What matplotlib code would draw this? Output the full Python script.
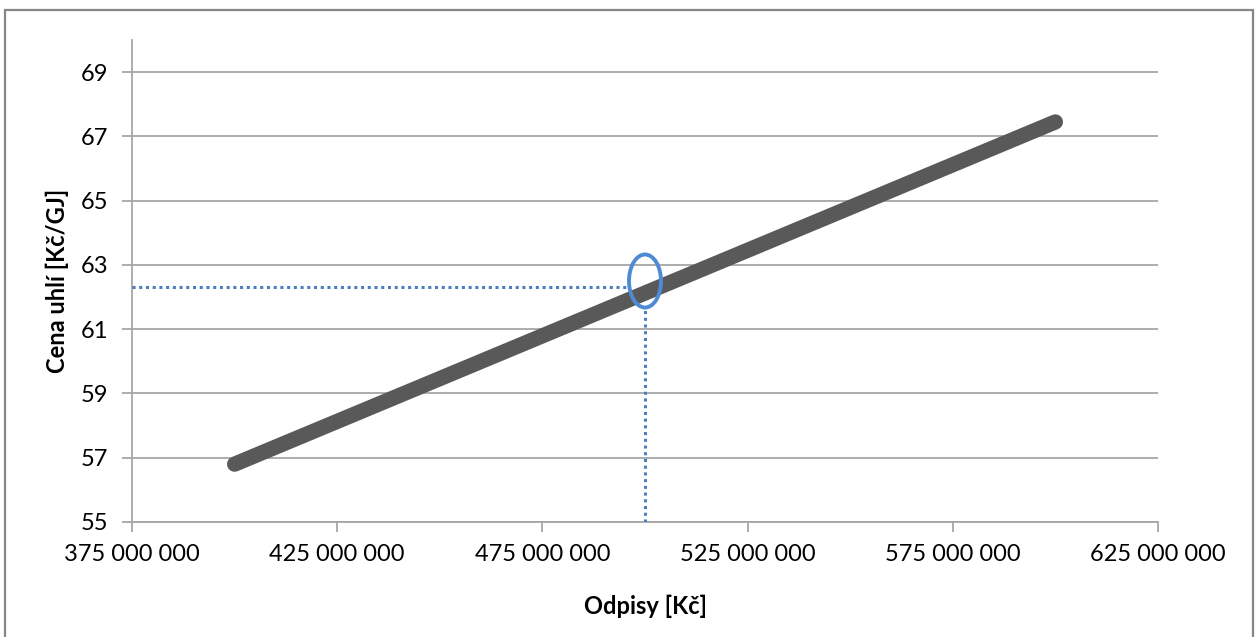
import matplotlib
matplotlib.use("Agg")
import matplotlib.pyplot as plt
from matplotlib.patches import Ellipse, Rectangle
from matplotlib.ticker import FuncFormatter

# price of coal as a function of depreciation
odpisy = [400e6, 600e6]
cena = [56.8, 67.45]

# highlighted operating point
x_bod = 500e6
y_bod = 62.3

x_ticks = [375e6, 425e6, 475e6, 525e6, 575e6, 625e6]
y_ticks = [55, 57, 59, 61, 63, 65, 67, 69]

plt.rcParams['font.family'] = ['Lato', 'DejaVu Sans']

fig = plt.figure(figsize=(12.59, 6.37), dpi=100)
ax = fig.add_axes([132/1259, 1-522/637, (1158-132)/1259, (522-40)/637])

grid_col = '#a6a6a6'
ax.set_xlim(375e6, 625e6)
ax.set_ylim(55, 70)
ax.set_xticks(x_ticks)
ax.set_yticks(y_ticks)
ax.yaxis.grid(True, color=grid_col, lw=1.3)
ax.set_axisbelow(True)
for s in ['top', 'right']:
    ax.spines[s].set_visible(False)
for s in ['left', 'bottom']:
    ax.spines[s].set_color(grid_col)
    ax.spines[s].set_linewidth(1.3)
ax.tick_params(axis='both', colors=grid_col, width=1.3, length=7,
               labelcolor='black', labelsize=17)
ax.tick_params(axis='x', pad=9)
ax.tick_params(axis='y', pad=10)
ax.xaxis.set_major_formatter(FuncFormatter(lambda v, p: f"{int(v):,}".replace(",", " ")))

ax.plot(odpisy, cena, color='#595959', lw=11, solid_capstyle='round', zorder=3)

# reading guides from the axes to the highlighted point
ell_w = 7.8e6
ell_h = 1.65
ax.plot([375e6, x_bod - ell_w/2], [y_bod, y_bod], ls=(0, (1, 1.2)), color='#4a7ebf', lw=2.2, zorder=4)
ax.plot([x_bod, x_bod], [55, 62.5 - ell_h/2], ls=(0, (1, 1.2)), color='#4a7ebf', lw=2.2, zorder=4)
ax.add_patch(Ellipse((x_bod, 62.5), ell_w, ell_h, fill=False, ec='#4f8ad4', lw=2.8, zorder=5))

ax.set_xlabel('Odpisy [Kč]', fontsize=17, fontweight='bold')
ax.set_ylabel('Cena uhlí [Kč/GJ]', fontsize=17, fontweight='bold')
ax.xaxis.set_label_coords(0.5, (522-606)/482)
ax.xaxis.label.set_va('center')
ax.yaxis.set_label_coords((57-132)/1026, 0.5)
ax.yaxis.label.set_va('center')

# chart frame
fig.patches.append(Rectangle((5/1259, -0.02), (1253-5)/1259, 1.02 - 10/637,
                             transform=fig.transFigure, fill=False, ec='#868686', lw=1.6))

fig.savefig('out.png', dpi=100)
